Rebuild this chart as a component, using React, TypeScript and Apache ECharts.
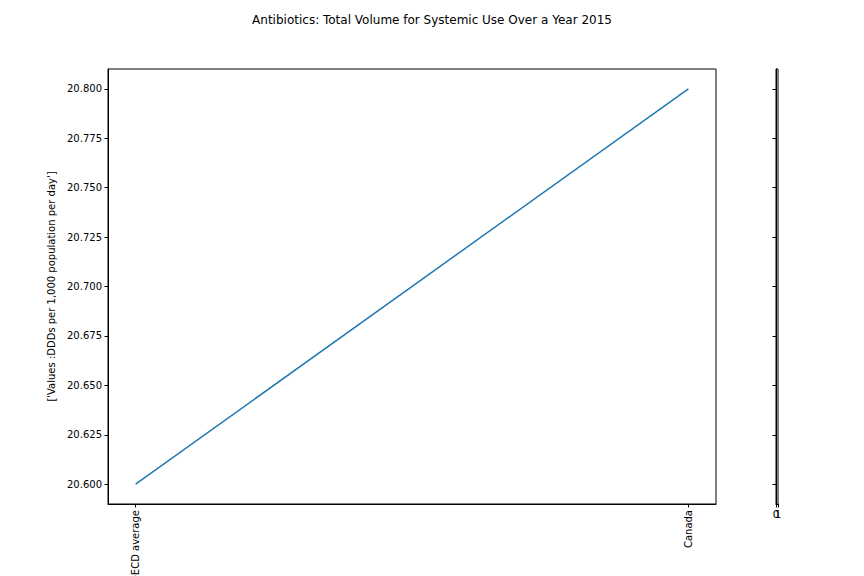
import React, { useEffect, useRef } from "react";
import * as echarts from "echarts";

const categories = ["OECD average", "Canada"];
const values = [20.6, 20.8];
const yTicks = [20.6, 20.625, 20.65, 20.675, 20.7, 20.725, 20.75, 20.775, 20.8];
const title = "Antibiotics: Total Volume for Systemic Use Over a Year 2015";
const yLabel = "['Values :DDDs per 1,000 population per day']";
const sideTicks = [0, 1];

const FONT = "DejaVu Sans";

export default function App() {
  const ref = useRef<HTMLDivElement>(null);
  useEffect(() => {
    if (!ref.current) return;
    const chart = echarts.init(ref.current, null, { renderer: "svg" });
    const axisLine = { show: true, onZero: false, lineStyle: { color: "#000", width: 1 } };
    const tick = { show: true, length: 3.5, lineStyle: { color: "#000", width: 1 } };
    const sideLabel = (v: number) => ({
      customValues: [v],
      margin: 5,
      hideOverlap: false,
      fontFamily: FONT,
      fontSize: 10,
      color: "#000",
      formatter: (x: number) => String(x),
    });
    chart.setOption({
      animation: false,
      backgroundColor: "#fff",
      title: {
        text: title,
        left: "center",
        top: 9,
        textStyle: { fontFamily: FONT, fontSize: 12, fontWeight: "normal", color: "#000" },
      },
      grid: [
        { left: 108, right: 148, top: 69, bottom: 72, outerBoundsMode: "none", containLabel: false, show: true, borderColor: "#000", borderWidth: 1, backgroundColor: "transparent" },
        { left: 776, width: 2, top: 69, bottom: 72, outerBoundsMode: "none", containLabel: false, show: true, borderColor: "#000", borderWidth: 1, backgroundColor: "transparent" },
      ],
      xAxis: [
        {
          type: "value",
          gridIndex: 0,
          position: "bottom",
          min: -0.05,
          max: 1.05,
          axisLine,
          axisTick: { ...tick, customValues: [0, 1] },
          splitLine: { show: false },
          axisLabel: {
            customValues: [0, 1],
            rotate: 90,
            margin: 6,
            hideOverlap: false,
            fontFamily: FONT,
            fontSize: 10,
            color: "#000",
            formatter: (v: number) => categories[Math.round(v)] ?? "",
          },
        },
        {
          type: "value",
          gridIndex: 1,
          position: "bottom",
          min: 0,
          max: 1,
          axisLine,
          axisTick: { ...tick, customValues: sideTicks },
          splitLine: { show: false },
          axisLabel: sideLabel(sideTicks[0]),
        },
        {
          type: "value",
          gridIndex: 1,
          position: "bottom",
          offset: 0,
          min: 0,
          max: 1,
          axisLine: { show: false },
          axisTick: { show: false },
          splitLine: { show: false },
          axisLabel: sideLabel(sideTicks[1]),
        },
      ],
      yAxis: [
        {
          type: "value",
          gridIndex: 0,
          position: "left",
          min: 20.59,
          max: 20.81,
          axisLine,
          axisTick: { ...tick, customValues: yTicks },
          splitLine: { show: false },
          axisLabel: {
            customValues: yTicks,
            margin: 6,
            fontFamily: FONT,
            fontSize: 10,
            color: "#000",
            formatter: (v: number) => v.toFixed(3),
          },
          name: yLabel,
          nameLocation: "middle",
          nameGap: 48,
          nameRotate: 90,
          nameTextStyle: { fontFamily: FONT, fontSize: 10, color: "#000" },
        },
        {
          type: "value",
          gridIndex: 1,
          position: "left",
          min: 20.59,
          max: 20.81,
          axisLine,
          axisTick: { ...tick, customValues: yTicks },
          splitLine: { show: false },
          axisLabel: { show: false },
        },
      ],
      series: [
        {
          type: "line",
          xAxisIndex: 0,
          yAxisIndex: 0,
          data: values.map((v, i) => [i, v]),
          showSymbol: false,
          symbol: "none",
          lineStyle: { color: "#1f77b4", width: 1.5 },
        },
      ],
    });
    return () => chart.dispose();
  }, []);
  return <div ref={ref} style={{ width: 864, height: 576, position: "absolute", left: 0, top: 0 }} />;
}
